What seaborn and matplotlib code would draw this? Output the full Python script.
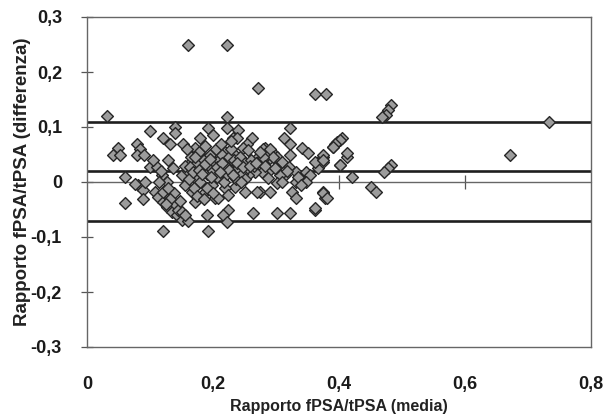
import matplotlib
matplotlib.use("Agg")
import matplotlib.pyplot as plt
import seaborn as sns
import pandas as pd

# Bland-Altman: mean (media) vs difference (differenza) of fPSA/tPSA ratio
media = [
    0.031, 0.100, 0.140, 0.140, 0.120, 0.132, 0.153, 0.050, 0.041, 0.052,
    0.080, 0.084, 0.080, 0.090, 0.060, 0.100, 0.111, 0.129, 0.137, 0.119,
    0.127, 0.081, 0.089, 0.092, 0.076, 0.060, 0.089, 0.108, 0.113, 0.121,
    0.127, 0.135, 0.143, 0.151, 0.160, 0.121, 0.192, 0.129, 0.121, 0.172,
    0.180, 0.192, 0.200, 0.160, 0.151, 0.156, 0.167, 0.172, 0.188, 0.199,
    0.176, 0.191, 0.203, 0.183, 0.207, 0.203,
    0.222, 0.222, 0.240, 0.231, 0.238, 0.262, 0.254, 0.323, 0.312, 0.323,
    0.342, 0.351, 0.397, 0.405, 0.390, 0.402, 0.413, 0.283, 0.288, 0.296,
    0.302, 0.291, 0.310, 0.323, 0.320, 0.331, 0.347, 0.354, 0.367, 0.374,
    0.375, 0.362, 0.347, 0.331, 0.315, 0.307, 0.288, 0.278, 0.267, 0.256,
    0.254, 0.247, 0.236, 0.224, 0.215, 0.208, 0.219, 0.231, 0.247, 0.256,
    0.272, 0.288, 0.275, 0.270, 0.291, 0.302, 0.251, 0.235, 0.219, 0.224,
    0.208, 0.326, 0.331, 0.374, 0.378, 0.362, 0.264, 0.302, 0.323, 0.224,
    0.216, 0.222,
    0.362, 0.380, 0.482, 0.478, 0.474, 0.469, 0.402, 0.394, 0.391, 0.413,
    0.374, 0.375, 0.402, 0.421, 0.482, 0.477, 0.471, 0.450, 0.458, 0.374,
    0.381, 0.362, 0.733, 0.672, 0.161, 0.222, 0.272,
    0.160, 0.165, 0.170, 0.175, 0.178, 0.180, 0.182, 0.185, 0.188, 0.190,
    0.193, 0.195, 0.198, 0.200, 0.203, 0.205, 0.207, 0.210, 0.212, 0.215,
    0.218, 0.220, 0.223, 0.225, 0.228, 0.230, 0.233, 0.236, 0.240, 0.243,
    0.246, 0.250, 0.170, 0.175, 0.185, 0.190, 0.200, 0.155, 0.158, 0.162,
    0.140, 0.145, 0.150, 0.155, 0.148, 0.138, 0.132, 0.128, 0.125,
    0.280, 0.285, 0.290, 0.295, 0.280, 0.275, 0.190, 0.105, 0.115, 0.118,
    0.265, 0.300, 0.310, 0.335, 0.340, 0.250, 0.260, 0.213, 0.228, 0.245,
    0.163, 0.168, 0.177, 0.187, 0.196, 0.206, 0.214, 0.226, 0.238, 0.248,
    0.258, 0.268, 0.282, 0.298, 0.318, 0.172, 0.183, 0.197, 0.211, 0.232,
]
differenza = [
    0.120, 0.093, 0.100, 0.090, 0.080, 0.070, 0.070, 0.062, 0.050, 0.049,
    0.070, 0.060, 0.049, 0.050, 0.009, 0.027, 0.027, 0.040, 0.025, 0.013,
    0.000, -0.005, -0.015, 0.000, -0.004, -0.038, -0.030, -0.018, -0.027, -0.036,
    -0.045, -0.054, -0.060, -0.069, -0.070, -0.089, -0.089, -0.024, -0.018, 0.062,
    0.080, 0.098, 0.085, 0.031, 0.013, -0.005, -0.018, -0.036, -0.018, 0.013,
    0.013, 0.036, 0.049, 0.049, 0.025, -0.029,
    0.118, 0.098, 0.094, 0.080, 0.080, 0.080, 0.070, 0.098, 0.080, 0.070,
    0.062, 0.053, 0.073, 0.080, 0.064, 0.031, 0.045, 0.062, 0.053, 0.053,
    0.045, 0.044, 0.036, 0.049, 0.027, 0.018, 0.018, 0.013, 0.025, 0.045,
    0.036, 0.036, 0.000, 0.000, 0.013, 0.013, 0.018, 0.018, 0.018, 0.013,
    0.025, 0.034, 0.031, 0.034, 0.031, 0.049, 0.055, 0.053, 0.062, 0.058,
    0.045, 0.007, -0.018, -0.018, -0.018, -0.002, -0.018, -0.009, -0.011, -0.024,
    -0.029, -0.018, -0.029, -0.018, -0.029, -0.051, -0.056, -0.056, -0.056, -0.051,
    -0.060, -0.073,
    0.160, 0.160, 0.140, 0.131, 0.122, 0.118, 0.076, 0.070, 0.064, 0.053,
    0.049, 0.040, 0.031, 0.009, 0.031, 0.025, 0.018, -0.009, -0.018, -0.020,
    -0.029, -0.047, 0.109, 0.049, 0.249, 0.249, 0.171,
    0.020, 0.045, 0.010, 0.035, 0.055, 0.000, 0.025, 0.040, 0.065, 0.015,
    0.030, 0.050, -0.005, 0.020, 0.035, 0.060, 0.010, 0.040, 0.025, 0.050,
    0.000, 0.030, 0.015, 0.045, 0.060, 0.020, 0.040, 0.005, 0.025, 0.045,
    0.015, 0.035, -0.010, -0.025, -0.030, -0.010, -0.020, 0.030, 0.060, 0.005,
    -0.040, -0.050, -0.055, -0.060, -0.035, -0.020, -0.030, -0.010, -0.040,
    0.060, 0.050, 0.060, 0.045, 0.045, 0.055, -0.060, 0.040, 0.000, 0.020,
    0.030, 0.025, 0.000, 0.010, -0.005, 0.005, 0.040, 0.070, 0.075, 0.000,
    0.028, 0.018, 0.022, 0.033, 0.042, 0.028, 0.035, 0.022, 0.035, 0.028,
    0.030, 0.035, 0.030, 0.025, 0.020, 0.045, 0.015, 0.010, 0.018, 0.012,
]

media_diff = 0.02
limite_sup = 0.11
limite_inf = -0.07

x_ticks = [0, 0.2, 0.4, 0.6, 0.8]
x_ticklabels = ["0", "0,2", "0,4", "0,6", "0,8"]
y_ticks = [-0.3, -0.2, -0.1, 0, 0.1, 0.2, 0.3]
y_ticklabels = ["-0,3", "-0,2", "-0,1", "0", "0,1", "0,2", "0,3"]

sns.set_style("white")
plt.rcParams["font.family"] = ["Liberation Sans", "DejaVu Sans"]

df = pd.DataFrame({"media": media, "differenza": differenza})

fig = plt.figure(figsize=(6.05, 4.2), dpi=100)
ax = fig.add_axes([87 / 605, 1 - 347 / 420, (591 - 87) / 605, (347 - 17) / 420])

# reference lines
ax.axhline(0, color="#666666", lw=0.9, zorder=1)
for v in (limite_sup, media_diff, limite_inf):
    ax.axhline(v, color="#1e1e1e", lw=1.9, zorder=2)

sns.scatterplot(data=df, x="media", y="differenza", marker="D", s=36,
                color="#9c9c9c", edgecolor="#262626", linewidth=1.0,
                ax=ax, zorder=3, legend=False)

ax.set_xlim(0, 0.8)
ax.set_ylim(-0.3, 0.3)
ax.set_xticks(x_ticks)
ax.set_xticklabels(x_ticklabels, fontsize=13, fontweight="bold", color="#1a1a1a")
ax.set_yticks(y_ticks)
ax.set_yticklabels(y_ticklabels, fontsize=13, fontweight="bold", color="#1a1a1a")
ax.tick_params(axis="x", length=0, pad=21)
ax.tick_params(axis="y", direction="inout", length=8, width=0.9,
               color="#555555", pad=14, left=True)

for sp in ax.spines.values():
    sp.set_visible(True)
    sp.set_color("#666666")
    sp.set_linewidth(1.0)

# category axis crossing at zero
sec = ax.secondary_xaxis(0.5)
sec.set_xticks([0.2, 0.4, 0.6])
sec.set_xticklabels([])
sec.tick_params(direction="inout", length=10, width=0.9, color="#555555")
sec.spines["bottom"].set_visible(False)

ax.set_xlabel("Rapporto fPSA/tPSA (media)", fontsize=11.5, fontweight="bold",
              color="#222222")
ax.set_ylabel("Rapporto fPSA/tPSA (differenza)", fontsize=13.5, fontweight="bold",
              color="#222222")
ax.xaxis.set_label_coords(0.5, -0.157)
ax.yaxis.set_label_coords(-0.112, 0.5)

fig.savefig("out.png", dpi=100)
